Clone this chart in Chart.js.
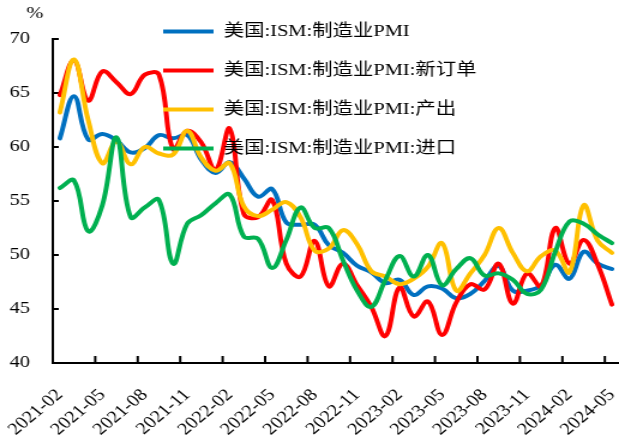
<!DOCTYPE html>
<html>
<head>
<meta charset="utf-8">
<script src="https://cdn.jsdelivr.net/npm/chart.js@4.4.1/dist/chart.umd.min.js"></script>
<style>
  html, body { margin: 0; padding: 0; background: #fff; overflow: hidden; }
  #chart { display: block; }
</style>
</head>
<body>
<!-- drawn at 516 wide, shown at 619 wide (wide serif look) -->
<canvas id="chart" width="516" height="443" style="width:619px;height:443px"></canvas>
<script>
const months = [
    '2021-02', '2021-03', '2021-04', '2021-05', '2021-06', '2021-07', '2021-08', '2021-09', '2021-10', '2021-11', '2021-12',
    '2022-01', '2022-02', '2022-03', '2022-04', '2022-05', '2022-06', '2022-07', '2022-08', '2022-09', '2022-10', '2022-11', '2022-12',
    '2023-01', '2023-02', '2023-03', '2023-04', '2023-05', '2023-06', '2023-07', '2023-08', '2023-09', '2023-10', '2023-11', '2023-12',
    '2024-01', '2024-02', '2024-03', '2024-04', '2024-05',
];

const seriesNames = [
    '美国:ISM:制造业PMI',
    '美国:ISM:制造业PMI:新订单',
    '美国:ISM:制造业PMI:产出',
    '美国:ISM:制造业PMI:进口',
];

const pmi = [
    60.8, 64.7, 60.7, 61.2, 60.6, 59.5, 59.9, 61.1, 60.8, 61.1, 58.8,
    57.6, 58.6, 57.1, 55.4, 56.1, 53.0, 52.8, 52.8, 50.9, 50.2, 49.0, 48.4,
    47.4, 47.7, 46.3, 47.1, 46.9, 46.0, 46.4, 47.6, 49.0, 46.7, 46.7, 47.2,
    49.1, 47.8, 50.3, 49.2, 48.7,
];

const newOrders = [
    64.8, 68.0, 64.3, 67.0, 66.0, 64.9, 66.7, 66.7, 59.8, 61.5, 60.4,
    57.9, 61.7, 53.8, 53.5, 55.1, 49.2, 48.0, 51.3, 47.1, 49.2, 47.2, 45.2,
    42.5, 47.0, 44.3, 45.7, 42.6, 45.6, 47.3, 46.8, 49.2, 45.5, 48.3, 47.1,
    52.5, 49.2, 51.4, 49.1, 45.4,
];

const production = [
    63.2, 68.1, 62.5, 58.5, 60.5, 58.4, 60.0, 59.4, 59.3, 61.5, 59.0,
    57.8, 58.5, 54.5, 53.6, 54.2, 54.9, 53.5, 50.4, 50.6, 52.3, 51.0, 48.5,
    48.0, 47.3, 47.8, 48.9, 51.1, 46.7, 48.3, 50.0, 52.5, 50.2, 48.5, 49.9,
    50.4, 48.4, 54.6, 51.3, 50.2,
];

const imports = [
    56.2, 56.9, 52.2, 54.6, 60.9, 53.5, 54.4, 55.1, 49.2, 52.9, 53.7,
    54.8, 55.6, 51.7, 51.5, 48.8, 51.4, 54.4, 52.5, 52.5, 49.5, 46.7, 45.2,
    47.7, 49.9, 48.0, 50.0, 47.2, 48.7, 49.7, 48.1, 48.3, 47.7, 46.4, 46.8,
    50.3, 53.1, 52.9, 51.9, 51.1,
];

const colors = ['#0070C0', '#FF0000', '#FFC000', '#00B050'];
const serif = '"Liberation Serif", "Noto Sans CJK SC", serif';

Chart.defaults.font.family = serif;
Chart.defaults.color = '#000';

// short tick marks pointing into the plot, the "%" unit, and legend placement
const axisMarks = {
    id: 'axisMarks',
    afterInit(chart) {
        // legend goes on top of the lines
        chart.legend._layers = () => [{z: 1, draw: (area) => chart.legend.draw(area)}];
    },
    afterLayout(chart) {
        const lg = chart.legend;
        const area = chart.chartArea;
        lg.left = area.left + 70;
        lg.right = lg.left + lg.width;
        lg.top = 1;
        lg.bottom = area.bottom;
    },
    beforeDatasetsDraw(chart) {
        const {ctx, chartArea, scales: {x, y}} = chart;
        ctx.save();
        ctx.strokeStyle = '#000';
        ctx.lineWidth = 2;
        ctx.beginPath();
        y.ticks.forEach(t => {
            const py = y.getPixelForValue(t.value);
            ctx.moveTo(chartArea.left, py);
            ctx.lineTo(chartArea.left + 5, py);
        });
        const half = (x.getPixelForValue(1) - x.getPixelForValue(0)) / 2;
        for (let i = 0; i < months.length; i += 3) {
            const px = x.getPixelForValue(i) - half;
            ctx.moveTo(px, chartArea.bottom);
            ctx.lineTo(px, chartArea.bottom - 7);
        }
        ctx.stroke();
        ctx.restore();
    },
    afterDraw(chart) {
        const {ctx, chartArea} = chart;
        ctx.save();
        ctx.font = '17px ' + serif;
        ctx.fillStyle = '#000';
        ctx.textAlign = 'center';
        ctx.textBaseline = 'middle';
        ctx.fillText('%', chartArea.left - 15, chartArea.top - 25);
        ctx.restore();
    }
};

const series = [pmi, newOrders, production, imports];

new Chart(document.getElementById('chart'), {
    type: 'line',
    data: {
        labels: months,
        datasets: series.map((values, i) => ({
            label: seriesNames[i],
            data: values,
            borderColor: colors[i],
            backgroundColor: colors[i],
            borderWidth: 4,
            borderCapStyle: 'round',
            pointRadius: 0,
            tension: 0.4,
            order: series.length - i,
        })),
    },
    options: {
        responsive: false,
        animation: false,
        devicePixelRatio: 1,
        layout: {padding: {top: 39, right: 0, bottom: 0, left: 0}},
        plugins: {
            tooltip: {enabled: false},
            legend: {
                position: 'chartArea',
                align: 'start',
                labels: {
                    usePointStyle: true,
                    pointStyle: 'line',
                    pointStyleWidth: 42,
                    padding: 22,
                    textAlign: 'left',
                    font: {size: 17, family: serif},
                    color: '#000',
                    sort: (a, b) => a.datasetIndex - b.datasetIndex,
                },
            },
        },
        scales: {
            x: {
                type: 'category',
                offset: true,
                grid: {display: false, drawTicks: false},
                border: {display: true, color: '#000', width: 2},
                ticks: {
                    autoSkip: false,
                    maxRotation: 45,
                    minRotation: 45,
                    padding: 22,
                    font: {size: 17},
                    color: '#000',
                    callback(value, index) {
                        return index % 3 === 0 ? this.getLabelForValue(value) : '';
                    },
                },
                afterFit(scale) {
                    scale.height = 80;
                    scale.paddingLeft = 0;
                    scale.paddingRight = 0;
                },
            },
            y: {
                min: 40,
                max: 70,
                grid: {display: false, drawTicks: false},
                border: {display: true, color: '#000', width: 2},
                ticks: {
                    stepSize: 5,
                    padding: 19,
                    font: {size: 17},
                    color: '#000',
                },
                afterFit(scale) {
                    scale.width = 44;
                },
            },
        },
    },
    plugins: [axisMarks],
});
</script>
</body>
</html>
